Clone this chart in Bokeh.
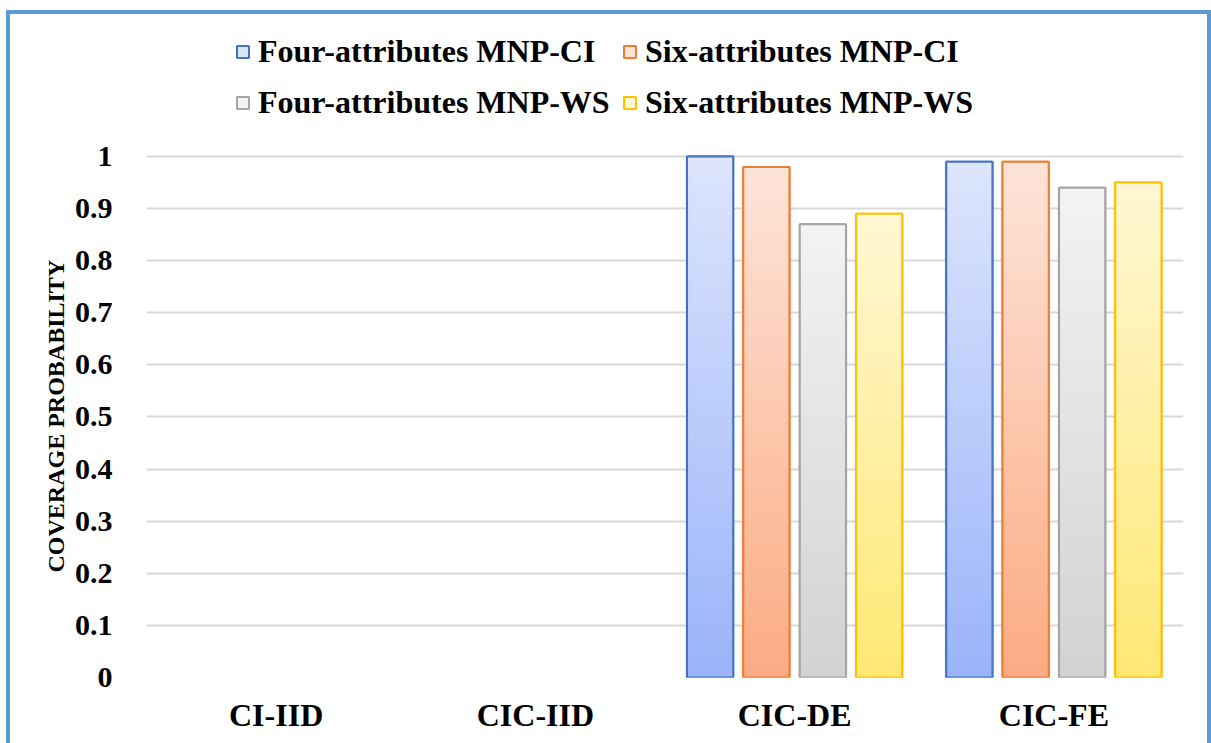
import math
from bokeh.plotting import figure
from bokeh.models import (ColumnDataSource, FactorRange, Range1d, Legend, LegendItem,
                          FixedTicker, NumeralTickFormatter, Title)
from bokeh.transform import dodge
from bokeh.embed import file_html
from bokeh.resources import INLINE

# ---------------- data ----------------
categories = ["CI-IID", "CIC-IID", "CIC-DE", "CIC-FE"]
series_names = ["Four-attributes MNP-CI", "Six-attributes MNP-CI",
                "Four-attributes MNP-WS", "Six-attributes MNP-WS"]
four_attr_ci = [None, None, 1.00, 0.99]
six_attr_ci = [None, None, 0.98, 0.99]
four_attr_ws = [None, None, 0.87, 0.94]
six_attr_ws = [None, None, 0.89, 0.95]
y_ticks = [0, 0.1, 0.2, 0.3, 0.4, 0.5, 0.6, 0.7, 0.8, 0.9, 1.0]
y_label = "COVERAGE PROBABILITY"

# ---------------- style ----------------
FONT = "Liberation Serif"
outline_colors = ["#4472C4", "#ED7D31", "#A5A5A5", "#FFC000"]
top_colors = ["#DDE5FC", "#FDE4D9", "#F3F3F3", "#FFF7D4"]
bottom_colors = ["#9AB4FA", "#FBAB83", "#D2D2D2", "#FFE873"]
offsets = [-0.326, -0.109, 0.109, 0.326]
bar_w = 0.178
N_SLICES = 60


def hex2rgb(h):
    h = h.lstrip("#")
    return tuple(int(h[i:i + 2], 16) for i in (0, 2, 4))


def mix(c1, c2, t):
    a, b = hex2rgb(c1), hex2rgb(c2)
    return "#%02x%02x%02x" % tuple(int(round(a[i] + (b[i] - a[i]) * t)) for i in range(3))


p = figure(x_range=FactorRange(*categories, range_padding=0.0),
           y_range=Range1d(0, 1.261),
           width=1205, height=733,
           output_backend="svg", toolbar_location=None,
           min_border_left=136, min_border_right=32,
           min_border_top=6, min_border_bottom=70)
p.styles = {"margin-left": "6px", "margin-top": "10px",
            "border-left": "4px solid #5B9BD5",
            "border-top": "4px solid #5B9BD5",
            "border-right": "4px solid #5B9BD5",
            "overflow": "hidden"}
p.outline_line_color = None
p.background_fill_color = "white"
p.border_fill_color = "white"

all_values = [four_attr_ci, six_attr_ci, four_attr_ws, six_attr_ws]
legend_renderers = []
for i, vals in enumerate(all_values):
    xs = [c for c, v in zip(categories, vals) if v is not None]
    vs = [v for v in vals if v is not None]
    src = ColumnDataSource(dict(x=xs, top=vs))
    # soft shadow
    p.vbar(x=dodge("x", offsets[i], range=p.x_range), top="top", width=bar_w + 0.014,
           source=src, fill_color="#000000", fill_alpha=0.07, line_color=None)
    base = p.vbar(x=dodge("x", offsets[i], range=p.x_range), top="top", width=bar_w,
                  source=src, fill_color=top_colors[i], line_color=outline_colors[i],
                  line_width=2)
    legend_renderers.append(base)
    # gradient slices
    sx, sb, st, sc = [], [], [], []
    for c, v in zip(xs, vs):
        for k in range(N_SLICES):
            sx.append(c)
            sb.append(v * k / N_SLICES)
            st.append(v * min(k + 1.6, N_SLICES) / N_SLICES)
            sc.append(mix(bottom_colors[i], top_colors[i], (k + 0.5) / N_SLICES))
    ssrc = ColumnDataSource(dict(x=sx, bottom=sb, top=st, color=sc))
    p.vbar(x=dodge("x", offsets[i], range=p.x_range), bottom="bottom", top="top",
           width=bar_w, source=ssrc, fill_color="color", line_color=None)
    p.vbar(x=dodge("x", offsets[i], range=p.x_range), top="top", width=bar_w,
           source=src, fill_color=None, line_color=outline_colors[i], line_width=2)

# axes
p.yaxis.ticker = FixedTicker(ticks=y_ticks)
p.yaxis.formatter = NumeralTickFormatter(format="0.[0]")
for ax in (p.xaxis[0], p.yaxis[0]):
    ax.axis_line_color = None
    ax.major_tick_line_color = None
    ax.minor_tick_line_color = None
    ax.major_label_text_font = FONT
    ax.major_label_text_font_style = "bold"
    ax.major_label_text_color = "black"
p.xaxis.major_label_standoff = 13
p.xaxis.major_label_text_font_size = "32px"
p.yaxis.major_label_text_font_size = "30px"
p.yaxis.major_label_standoff = 28

# y-axis title placed alongside the 0..1 part of the axis
ytitle = Title(text=y_label, align="left", offset=105, vertical_align="bottom",
               standoff=6, text_font=FONT, text_font_style="bold",
               text_font_size="24px", text_color="black")
p.add_layout(ytitle, "left")

p.xgrid.grid_line_color = None
p.ygrid.grid_line_color = "#D9D9D9"
p.ygrid.grid_line_width = 2


# legends (two rows)
def make_legend(idx, loc):
    lg = Legend(items=[LegendItem(label=series_names[j], renderers=[legend_renderers[j]])
                       for j in idx],
                location=loc, orientation="horizontal",
                padding=0, margin=0, spacing=12,
                glyph_width=15, glyph_height=15, label_standoff=8,
                label_width=352,
                label_text_font=FONT, label_text_font_style="bold",
                label_text_font_size="32px", label_text_color="black",
                border_line_color=None, background_fill_alpha=0)
    p.add_layout(lg, "center")


make_legend([0, 1], (89, 607))
make_legend([2, 3], (89, 556))

open("out.html", "w").write(file_html(p, INLINE))
